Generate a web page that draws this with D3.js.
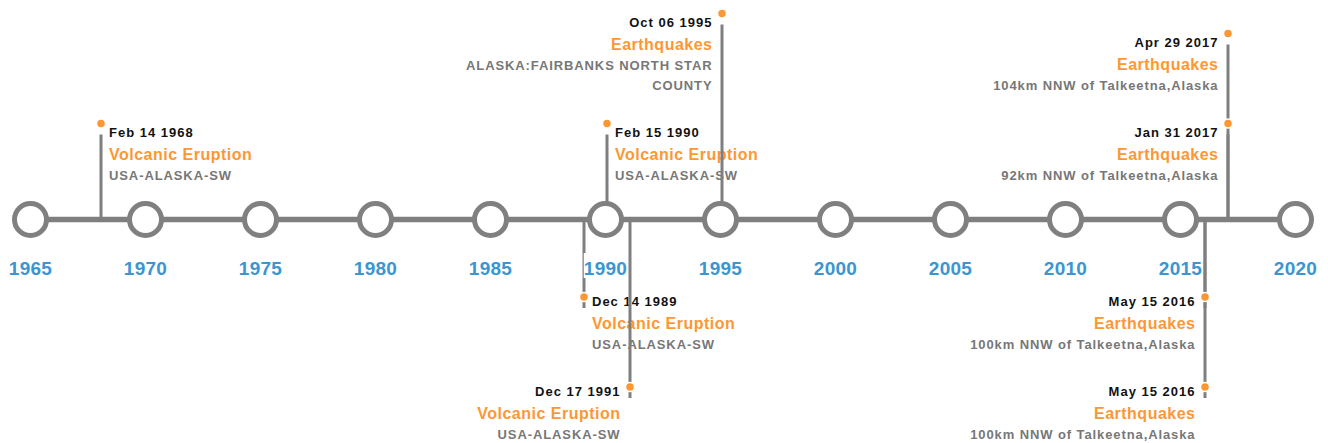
<!DOCTYPE html>
<html>
<head>
<meta charset="utf-8">
<script src="https://d3js.org/d3.v7.min.js"></script>
<style>
  body { margin: 0; background: #fff; }
  svg { display: block; font-family: "Liberation Sans", Arial, Helvetica, sans-serif; }
</style>
</head>
<body>
<svg width="1328" height="443"></svg>
<script>
/// Data
var tickYears = [1965, 1970, 1975, 1980, 1985, 1990, 1995, 2000, 2005, 2010, 2015, 2020];

var eventDates = ["Feb 14 1968", "Dec 14 1989", "Feb 15 1990", "Dec 17 1991", "Oct 06 1995",
                  "May 15 2016", "May 15 2016", "Jan 31 2017", "Apr 29 2017"];
var eventTypes = ["Volcanic Eruption", "Volcanic Eruption", "Volcanic Eruption", "Volcanic Eruption",
                  "Earthquakes", "Earthquakes", "Earthquakes", "Earthquakes", "Earthquakes"];
var eventPlaces = ["USA-ALASKA-SW", "USA-ALASKA-SW", "USA-ALASKA-SW", "USA-ALASKA-SW",
                   "ALASKA:FAIRBANKS NORTH STAR COUNTY",
                   "100km NNW of Talkeetna,Alaska", "100km NNW of Talkeetna,Alaska",
                   "92km NNW of Talkeetna,Alaska", "104km NNW of Talkeetna,Alaska"];

// lane of each label: side of the axis, stack level, which side of the stem the text sits
var laneSide  = ["up", "down", "up", "down", "up", "down", "down", "up", "up"];
var laneLevel = [1, 1, 1, 2, 2, 1, 2, 1, 2];
var laneAlign = ["right", "right", "right", "left", "left", "left", "left", "left", "left"];

var parseDate = d3.timeParse("%b %d %Y");

var events = eventDates.map(function(d, i) {
  return {
    date: d,
    year: parseDate(d).getFullYear(),
    type: eventTypes[i],
    place: eventPlaces[i],
    side: laneSide[i],
    level: laneLevel[i],
    align: laneAlign[i]
  };
});

/// Setup
var svg = d3.select("svg");
var axisY = 219.5;
var x = d3.scaleLinear().domain([1965, 2020]).range([30.5, 1295.5]);

var gText = svg.append("g");
var gStem = svg.append("g");
var gAxis = svg.append("g");
var gDot = svg.append("g");

// break the location into lines no wider than `width`
function wrap(textSel, width) {
  textSel.each(function() {
    var text = d3.select(this),
        words = text.text().split(/\s+/),
        lines = [], line = [];
    text.text(null);
    var probe = text.append("tspan");
    words.forEach(function(w) {
      line.push(w);
      probe.text(line.join(" "));
      if (probe.node().getComputedTextLength() > width && line.length > 1) {
        line.pop();
        lines.push(line.join(" "));
        line = [w];
      }
    });
    lines.push(line.join(" "));
    probe.remove();
    text.selectAll("tspan").data(lines).enter().append("tspan")
        .attr("x", text.attr("x"))
        .attr("dy", function(d, i) { return i ? 20 : 0; })
        .text(function(d) { return d; });
  });
}

/// Labels (measure the location first, then place the dot)
events.forEach(function(ev) {
  ev.x = x(ev.year) + 1.5;
  var tx = ev.align === "right" ? ev.x + 8 : ev.x - 9.5;
  var anchor = ev.align === "right" ? "start" : "end";
  var g = gText.append("g");

  var place = g.append("text")
      .attr("x", tx)
      .attr("text-anchor", anchor)
      .style("font-size", "13px")
      .style("font-weight", "bold")
      .style("letter-spacing", "0.9px")
      .style("fill", "#777")
      .text(ev.place);
  wrap(place, 260);
  var nLines = place.selectAll("tspan").size();

  if (ev.side === "up") {
    var lastBase = 179.5 - 90 * (ev.level - 1);
    ev.dotY = lastBase - 56 - 20 * (nLines - 1);
    ev.dateY = ev.dotY + 13.5;
  } else {
    ev.dotY = 297 + 90 * (ev.level - 1);
    ev.dateY = ev.dotY + 9;
  }
  place.attr("y", ev.dateY + 42.5);

  g.append("text")
      .attr("x", tx).attr("y", ev.dateY)
      .attr("text-anchor", anchor)
      .style("font-size", "13px")
      .style("font-weight", "bold")
      .style("letter-spacing", "1px")
      .style("fill", "#111")
      .text(ev.date);

  g.append("text")
      .attr("x", tx).attr("y", ev.dateY + 22.5)
      .attr("text-anchor", anchor)
      .style("font-size", "16px")
      .style("font-weight", "bold")
      .style("letter-spacing", "0.5px")
      .style("fill", "#fd9733")
      .text(ev.type);
});

/// Stems
gStem.selectAll("line")
    .data(events)
  .enter().append("line")
    .attr("x1", function(d) { return d.x; })
    .attr("x2", function(d) { return d.x; })
    .attr("y1", axisY)
    .attr("y2", function(d) { return d.dotY + 11; })
    .style("stroke", "#7f7f7f")
    .style("stroke-width", 3);

/// Axis line, year circles and labels
gAxis.append("line")
    .attr("x1", x(1965)).attr("x2", x(2020))
    .attr("y1", axisY).attr("y2", axisY)
    .style("stroke", "#7f7f7f")
    .style("stroke-width", 5.5);

gAxis.selectAll("circle")
    .data(tickYears)
  .enter().append("circle")
    .attr("cx", function(d) { return x(d); })
    .attr("cy", axisY)
    .attr("r", 16)
    .style("fill", "#fff")
    .style("stroke", "#808080")
    .style("stroke-width", 5);

var yearLabels = gAxis.selectAll("g.year")
    .data(tickYears)
  .enter().append("g").attr("class", "year");

yearLabels.append("text")
    .attr("x", function(d) { return x(d); })
    .attr("y", 275)
    .attr("text-anchor", "middle")
    .style("font-size", "19px")
    .style("font-weight", "bold")
    .style("letter-spacing", "0.3px")
    .style("fill", "#3a96d2")
    .text(function(d) { return d; });

yearLabels.each(function() {
  var g = d3.select(this);
  var b = g.select("text").node().getBBox();
  g.insert("rect", "text")
      .attr("x", b.x).attr("width", b.width)
      .attr("y", 253).attr("height", 25)
      .style("fill", "#fff");
});

/// Dots
gDot.selectAll("circle")
    .data(events)
  .enter().append("circle")
    .attr("cx", function(d) { return d.x; })
    .attr("cy", function(d) { return d.dotY; })
    .attr("r", 4.5)
    .style("fill", "#fd9733")
    .style("stroke", "#fff")
    .style("stroke-width", 1.5);
</script>
</body>
</html>
